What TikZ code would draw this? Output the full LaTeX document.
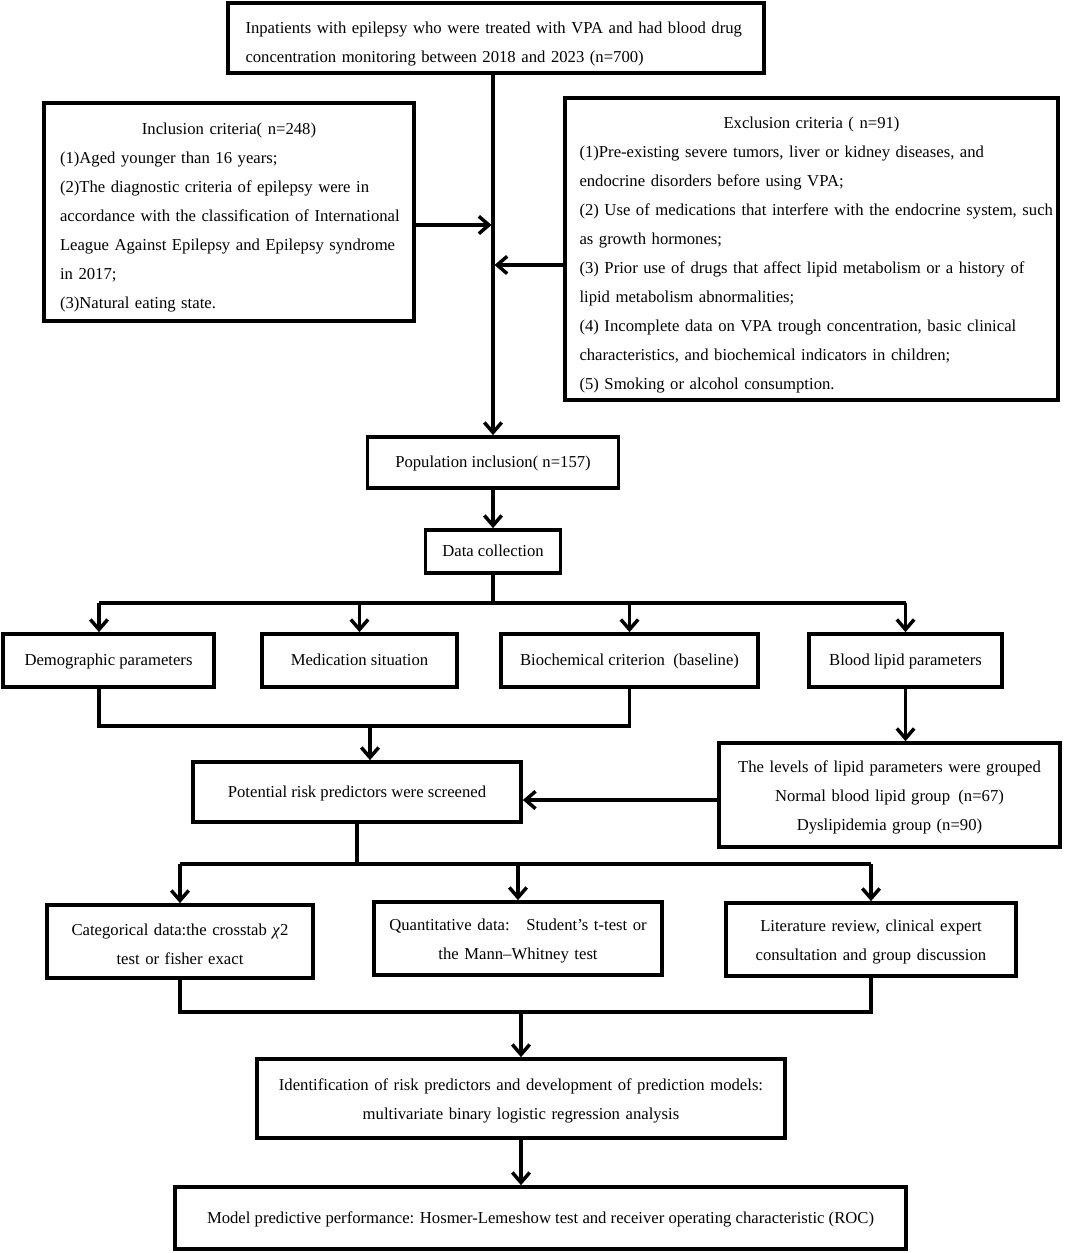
\documentclass[tikz,border=0pt]{standalone}
\usepackage{fontspec}
\setmainfont{Liberation Serif}
\usetikzlibrary{arrows.meta}
\newcommand{\jline}[1]{\makebox[\hsize][s]{#1}}
\newcommand{\midline}[1]{\makebox[\hsize][c]{#1}}
\tikzset{
  box/.style={draw, line width=2.8pt, inner sep=0pt, font=\fontsize{12.5}{21.75}\selectfont},
  cell/.style={box, text height=11pt, text depth=3pt},
  para/.style={box, align=left, execute at begin node={\setlength{\parindent}{0pt}\rule{0pt}{17.2pt}}},
  cpara/.style={box, align=center, execute at begin node={\rule{0pt}{12.7pt}}},
  link/.style={line width=2.6pt},
  arr/.style={link, -{Straight Barb[length=7.5pt,width=13pt]}},
}
\begin{document}
\begin{tikzpicture}[x=0.75pt,y=0.75pt,yscale=-1,xscale=1]
\path[use as bounding box, fill=white] (0,0) rectangle (1065,1253);
% screening
\node[para, text width=375.75pt, minimum width=402pt, minimum height=52.5pt] (pts) at (496,38)
  {\jline{Inpatients with epilepsy who were treated with VPA and had blood drug}\\
   concentration monitoring between 2018 and 2023 (n=700)};
\node[para, text width=253.5pt, minimum width=277.5pt, minimum height=163.5pt] (inc) at (229,212)
  {\midline{Inclusion criteria( n=248)}\\
   (1)Aged younger than 16 years;\\
   \jline{(2)The diagnostic criteria of epilepsy were in}\\
   \jline{accordance with the classification of International}\\
   \jline{League Against Epilepsy and Epilepsy syndrome}\\
   in 2017;\\
   (3)Natural eating state.};
\node[para, text width=348pt, minimum width=369.75pt, minimum height=226.5pt] (exc) at (811.5,249)
  {\midline{Exclusion criteria ( n=91)}\\
   \jline{(1)Pre-existing severe tumors, liver or kidney diseases, and}\\
   endocrine disorders before using VPA;\\
   \jline{(2) Use of medications that interfere with the endocrine system, such}\\
   as growth hormones;\\
   \jline{(3) Prior use of drugs that affect lipid metabolism or a history of}\\
   lipid metabolism abnormalities;\\
   (4) Incomplete data on VPA trough concentration, basic clinical\\
   characteristics, and biochemical indicators in children;\\
   (5) Smoking or alcohol consumption.};
\node[cell, minimum width=188.25pt, minimum height=38.25pt] (pop) at (493,462.5) {Population inclusion( n=157)};
\node[cell, minimum width=101.25pt, minimum height=32.25pt] (dat) at (493,551.5) {Data collection};
% data
\node[cell, minimum width=158.25pt, minimum height=39.75pt] (dem) at (108.5,660.5) {Demographic parameters};
\node[cell, minimum width=146.25pt, minimum height=39.75pt] (med) at (359.5,660.5) {Medication situation};
\node[cell, minimum width=192.75pt, minimum height=39.75pt] (bio) at (629.5,660.5) {Biochemical criterion\enspace(baseline)};
\node[cell, minimum width=144.75pt, minimum height=39.75pt] (lip) at (905.5,660.5) {Blood lipid parameters};
\node[cell, minimum width=246pt, minimum height=45pt] (pot) at (357,792) {Potential risk predictors were screened};
\node[cpara, text width=245pt, minimum width=255.75pt, minimum height=78pt] (grp) at (889.5,795)
  {The levels of lipid parameters were grouped\\Normal blood lipid group\enspace(n=67)\\Dyslipidemia group (n=90)};
% analysis
\node[cpara, text width=190pt, minimum width=199.5pt, minimum height=54.75pt] (cat) at (180,941.5)
  {Categorical data:the crosstab \textit{χ}2\\test or fisher exact};
\node[cpara, text width=206pt, minimum width=216pt, minimum height=54.75pt] (qua) at (518,938.5)
  {Quantitative data:\quad Student’s t-test or\\the Mann--Whitney test};
\node[cpara, text width=207pt, minimum width=217.5pt, minimum height=54.75pt] (lit) at (871,939.5)
  {Literature review, clinical expert\\consultation and group discussion};
\node[cpara, text width=386pt, minimum width=396pt, minimum height=59.25pt] (idn) at (521,1098.5)
  {Identification of risk predictors and development of prediction models:\\multivariate binary logistic regression analysis};
\node[cell, minimum width=548.25pt, minimum height=46.5pt] (mod) at (540.5,1218)
  {Model predictive performance: Hosmer-Lemeshow test and receiver operating characteristic (ROC)};
% connectors
\coordinate (tin) at (491.5,225);
\coordinate (tex) at (494.5,265);
\coordinate (dmx) at (99,0);
\coordinate (s1) at (0,603);
\coordinate (s2) at (370,726);
\coordinate (s3) at (0,800);
\coordinate (s4) at (0,864);
\coordinate (s5) at (0,1012);
\draw[arr] (pts.south -| pop.north) -- (pop.north);
\draw[arr] (inc.east |- tin) -- (tin);
\draw[arr] (exc.west |- tex) -- (tex);
\draw[arr] (pop.south) -- (dat.north);
\draw[link] (dat.south) -- (dat.south |- s1);
\draw[link] (dmx |- s1) -- (lip.north |- s1);
\draw[arr] (dmx |- s1) -- (dmx |- dem.north);
\foreach \n in {med,bio,lip}
  \draw[arr] (\n.north |- s1) -- (\n.north);
\draw[link] (dmx |- dem.south) -- (dmx |- s2) -- (bio.south |- s2) -- (bio.south);
\draw[arr] (s2) -- (s2 |- pot.north);
\draw[arr] (lip.south) -- (lip.south |- grp.north);
\draw[arr] (grp.west |- s3) -- (pot.east |- s3);
\draw[link] (pot.south) -- (pot.south |- s4);
\draw[link] (cat.north |- s4) -- (lit.north |- s4);
\foreach \n in {cat,qua,lit}
  \draw[arr] (\n.north |- s4) -- (\n.north);
\draw[link] (cat.south) -- (cat.south |- s5) -- (lit.south |- s5) -- (lit.south);
\draw[arr] (idn.north |- s5) -- (idn.north);
\draw[arr] (idn.south) -- (idn.south |- mod.north);
\end{tikzpicture}
\end{document}
